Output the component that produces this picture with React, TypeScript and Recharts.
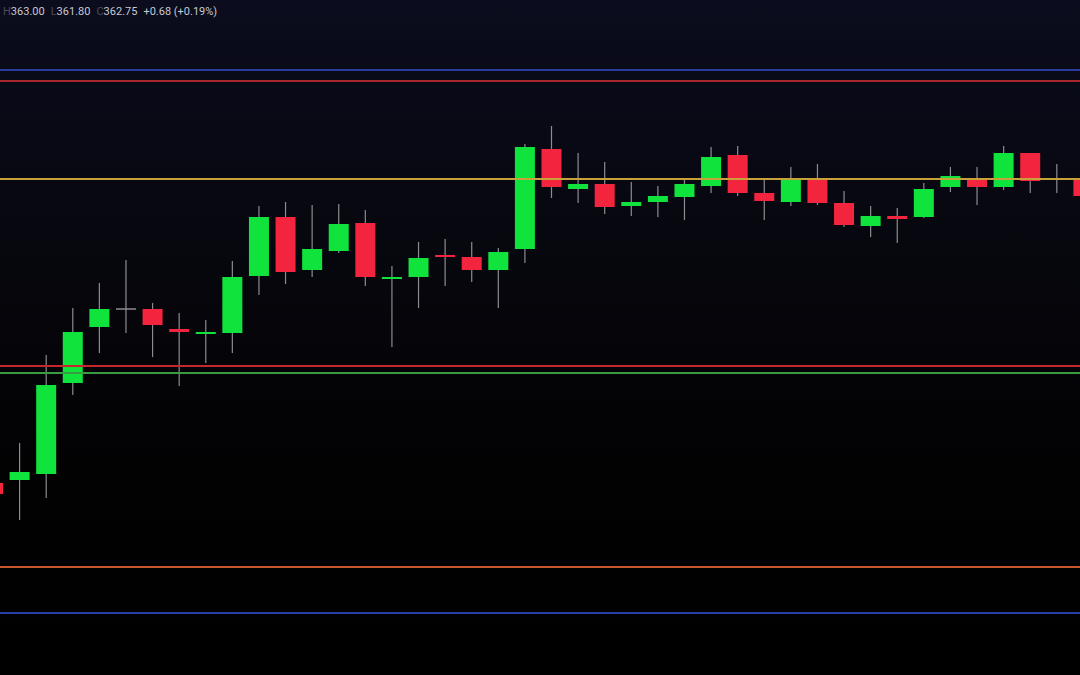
import { Bar, ComposedChart, ReferenceLine, XAxis, YAxis } from 'recharts'

// candles, left to right (first and last are cut off by the frame)
const opens = [
  347.8, 347.95, 348.25, 352.8, 355.6, 356.5, 356.5, 355.5, 355.25, 355.3,
  358.15, 361.1, 358.45, 359.4, 360.8, 358.0, 358.1, 359.2, 359.1, 358.45,
  359.5, 364.5, 362.5, 362.75, 361.65, 361.85, 362.1, 362.65, 364.2, 362.3,
  361.85, 363.05, 361.8, 360.65, 361.15, 361.1, 362.6, 363.0, 362.6, 364.3,
  363.0, 363.0,
]
const highs = [
  347.95, 349.8, 354.2, 356.55, 357.8, 358.95, 356.8, 356.3, 355.95, 358.9,
  361.65, 361.85, 361.7, 361.75, 361.45, 358.65, 359.85, 360.0, 359.85, 359.55,
  364.75, 365.65, 364.3, 363.85, 362.85, 362.65, 362.95, 364.6, 364.65, 362.95,
  363.6, 363.75, 362.4, 361.65, 361.55, 362.8, 363.6, 363.6, 364.65, 364.3,
  363.75, 363.2,
]
const lows = [
  347.1, 345.95, 347.05, 352.2, 354.3, 355.3, 354.1, 352.65, 353.8, 354.3,
  357.2, 357.75, 358.1, 359.3, 357.65, 354.6, 356.55, 357.65, 357.85, 356.55,
  358.8, 362.05, 361.8, 361.25, 361.15, 361.1, 360.95, 362.3, 362.15, 360.95,
  361.65, 361.7, 360.6, 360.1, 359.8, 361.05, 362.35, 361.7, 362.45, 362.3,
  362.3, 361.95,
]
const closes = [
  347.25, 348.35, 352.7, 355.35, 356.5, 356.5, 355.7, 355.35, 355.35, 358.1,
  361.1, 358.35, 359.5, 360.75, 358.1, 358.1, 359.05, 359.1, 358.45, 359.35,
  364.6, 362.6, 362.75, 361.6, 361.85, 362.15, 362.75, 364.1, 362.3, 361.9,
  363.05, 361.8, 360.7, 361.15, 361.0, 362.5, 363.15, 362.6, 364.3, 362.9,
  363.0, 362.15,
]

// horizontal levels drawn across the chart
const levelPrices = [368.45, 367.9, 363.0, 353.65, 353.3, 343.6, 341.3]
const levelColors = ['#2b3a9c', '#a8262c', '#c9a13a', '#c4282e', '#3a9c42', '#c4582c', '#2a3fa2']

const header = [
  { label: 'H', value: '363.00' },
  { label: 'L', value: '361.80' },
  { label: 'C', value: '362.75' },
]
const headerChange = '+0.68 (+0.19%)'

const UP = '#10e43c'
const DOWN = '#f2243e'
const WICK = '#8c8c90'

const candles = opens.map((open, i) => ({
  idx: i,
  open,
  high: highs[i],
  low: lows[i],
  close: closes[i],
  range: [lows[i], highs[i]],
}))

type Candle = (typeof candles)[number]

function CandleShape(props: {
  x?: number
  y?: number
  width?: number
  height?: number
  payload?: Candle
}) {
  const { x = 0, y = 0, width = 0, height = 0, payload } = props
  if (!payload) return null

  const top = Math.min(y, y + height)
  const bottom = Math.max(y, y + height)
  const span = payload.high - payload.low || 1
  const toY = (v: number) => top + ((payload.high - v) / span) * (bottom - top)

  const yOpen = toY(payload.open)
  const yClose = toY(payload.close)
  const cx = x + width / 2
  const doji = payload.open === payload.close
  const color = doji ? WICK : payload.close > payload.open ? UP : DOWN
  const bodyTop = Math.min(yOpen, yClose)
  const bodyH = Math.max(Math.abs(yClose - yOpen), 2)

  return (
    <g>
      <line x1={cx} x2={cx} y1={top} y2={bottom} stroke={WICK} strokeWidth={1.2} />
      <rect x={x} y={doji ? yOpen - 0.75 : bodyTop} width={width} height={doji ? 1.5 : bodyH} fill={color} />
    </g>
  )
}

export default function App() {
  return (
    <div
      style={{
        position: 'absolute',
        top: 0,
        left: 0,
        width: 1080,
        height: 675,
        overflow: 'hidden',
        background: 'linear-gradient(180deg, #0b0c1d 0%, #07070f 35%, #020203 70%, #000000 100%)',
        fontFamily: 'Roboto, "Noto Sans", sans-serif',
      }}
    >
      <div
        style={{
          position: 'absolute',
          top: 5,
          left: 3,
          fontSize: 11,
          color: '#c9c9d2',
          whiteSpace: 'nowrap',
          zIndex: 2,
        }}
      >
        {header.map((h) => (
          <span key={h.label} style={{ marginRight: 6 }}>
            <span style={{ color: '#4c4c5c' }}>{h.label}</span>
            {h.value}
          </span>
        ))}
        <span>{headerChange}</span>
      </div>

      <div style={{ position: 'absolute', top: 0, left: -20 }}>
        <ComposedChart
          width={1117}
          height={675}
          data={candles}
          margin={{ top: 0, right: 0, bottom: 0, left: 0 }}
        >
          <XAxis dataKey="idx" hide />
          <YAxis hide domain={[338.2, 371.95]} allowDataOverflow />
          {levelPrices.map((p, i) => (
            <ReferenceLine
              key={p}
              y={p}
              stroke={levelColors[i]}
              strokeWidth={2}
              ifOverflow="extendDomain"
            />
          ))}
          <Bar
            dataKey="range"
            barSize={20}
            shape={<CandleShape />}
            isAnimationActive={false}
          />
        </ComposedChart>
      </div>
    </div>
  )
}
